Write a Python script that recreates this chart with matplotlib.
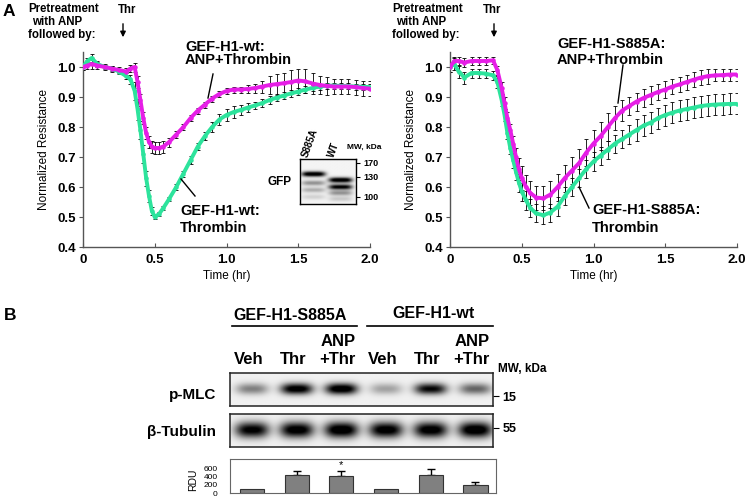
import matplotlib
matplotlib.use("Agg")
import matplotlib.pyplot as plt
import matplotlib.transforms as mtransforms
import numpy as np
from matplotlib.lines import Line2D
from matplotlib.patches import FancyArrowPatch

W, H = 745, 499
MAGENTA = "#e61ee6"
GREEN = "#2de39c"
NARROW = ["Liberation Sans Narrow", "Liberation Sans"]

plt.rcParams["font.family"] = ["Liberation Sans", "DejaVu Sans"]
plt.rcParams["font.weight"] = "bold"

# ---- panel A: normalized resistance vs time (hr), mean and error
time_hr = [0, 0.03, 0.06, 0.1, 0.15, 0.2, 0.25, 0.3, 0.33, 0.36, 0.38, 0.40,
           0.42, 0.44, 0.46, 0.48, 0.50, 0.53, 0.56, 0.6, 0.65, 0.7, 0.75, 0.8,
           0.85, 0.9, 0.95, 1.0, 1.05, 1.1, 1.15, 1.2, 1.25, 1.3, 1.35, 1.4,
           1.45, 1.5, 1.55, 1.6, 1.65, 1.7, 1.75, 1.8, 1.85, 1.9, 1.95, 2.0]

wt_thr = [1.00, 1.02, 1.03, 1.01, 1.00, 0.995, 0.985, 0.97, 0.96, 0.92, 0.86, 0.79,
          0.71, 0.63, 0.57, 0.52, 0.50, 0.51, 0.53, 0.56, 0.60, 0.645, 0.69, 0.735,
          0.77, 0.80, 0.825, 0.84, 0.85, 0.857, 0.865, 0.872, 0.88, 0.89, 0.898, 0.905,
          0.912, 0.918, 0.925, 0.93, 0.935, 0.938, 0.938, 0.937, 0.936, 0.935, 0.934, 0.933]
wt_thr_err = [0.01, 0.01, 0.012, 0.01, 0.008, 0.008, 0.008, 0.01, 0.015, 0.03, 0.035, 0.03,
              0.03, 0.025, 0.02, 0.012, 0.008, 0.008, 0.008, 0.008, 0.01, 0.01, 0.012, 0.012,
              0.012, 0.015, 0.018, 0.02, 0.02, 0.018, 0.015, 0.012, 0.012, 0.012, 0.012, 0.012,
              0.012, 0.012, 0.012, 0.01, 0.01, 0.01, 0.01, 0.01, 0.01, 0.01, 0.01, 0.01]

wt_anp = [1.00, 1.005, 1.01, 1.005, 1.00, 0.995, 0.99, 0.985, 0.995, 1.00, 0.95, 0.89,
          0.83, 0.78, 0.75, 0.735, 0.73, 0.73, 0.735, 0.75, 0.775, 0.80, 0.83, 0.855,
          0.875, 0.895, 0.91, 0.92, 0.925, 0.925, 0.927, 0.93, 0.935, 0.94, 0.943, 0.946,
          0.95, 0.955, 0.952, 0.945, 0.94, 0.937, 0.935, 0.935, 0.935, 0.933, 0.93, 0.928]
wt_anp_err = [0.01, 0.012, 0.015, 0.012, 0.01, 0.01, 0.01, 0.012, 0.012, 0.015, 0.02, 0.02,
              0.02, 0.02, 0.02, 0.02, 0.02, 0.02, 0.02, 0.015, 0.012, 0.01, 0.01, 0.01,
              0.01, 0.01, 0.01, 0.01, 0.01, 0.01, 0.012, 0.015, 0.02, 0.03, 0.035, 0.035,
              0.04, 0.04, 0.04, 0.035, 0.03, 0.03, 0.025, 0.025, 0.025, 0.025, 0.025, 0.025]

mut_thr = [1.00, 1.01, 0.985, 0.965, 0.98, 0.98, 0.978, 0.972, 0.95, 0.89, 0.84, 0.78,
           0.73, 0.69, 0.65, 0.615, 0.585, 0.555, 0.53, 0.512, 0.506, 0.515, 0.535, 0.57,
           0.60, 0.63, 0.66, 0.685, 0.705, 0.725, 0.745, 0.76, 0.775, 0.79, 0.805, 0.815,
           0.83, 0.84, 0.848, 0.855, 0.86, 0.865, 0.87, 0.873, 0.875, 0.876, 0.877, 0.877]
mut_thr_err = [0.015, 0.02, 0.02, 0.02, 0.015, 0.015, 0.015, 0.015, 0.02, 0.02, 0.02, 0.02,
               0.02, 0.025, 0.025, 0.03, 0.03, 0.03, 0.03, 0.03, 0.03, 0.03, 0.03, 0.03,
               0.03, 0.03, 0.03, 0.03, 0.03, 0.03, 0.03, 0.03, 0.03, 0.035, 0.035, 0.035,
               0.035, 0.035, 0.035, 0.035, 0.035, 0.035, 0.035, 0.035, 0.035, 0.035, 0.035, 0.035]

mut_anp = [1.00, 1.02, 1.02, 1.015, 1.02, 1.02, 1.02, 1.022, 0.99, 0.93, 0.88, 0.83,
           0.79, 0.745, 0.70, 0.66, 0.63, 0.60, 0.58, 0.565, 0.562, 0.575, 0.60, 0.63,
           0.655, 0.68, 0.715, 0.745, 0.77, 0.80, 0.83, 0.855, 0.87, 0.885, 0.897, 0.907,
           0.917, 0.925, 0.935, 0.942, 0.95, 0.958, 0.965, 0.97, 0.972, 0.973, 0.975, 0.975]
mut_anp_err = [0.015, 0.015, 0.015, 0.015, 0.012, 0.012, 0.012, 0.012, 0.015, 0.02, 0.02, 0.02,
               0.02, 0.025, 0.03, 0.035, 0.04, 0.04, 0.04, 0.04, 0.04, 0.045, 0.045, 0.045,
               0.045, 0.045, 0.045, 0.045, 0.045, 0.045, 0.04, 0.035, 0.03, 0.03, 0.03, 0.03,
               0.028, 0.028, 0.025, 0.025, 0.025, 0.025, 0.025, 0.025, 0.02, 0.02, 0.02, 0.02]

# ---- inset: GFP blot band intensities (main band first)
gfp_s885a = [1.0, 0.35, 0.25, 0.12]
gfp_wt = [1.0, 0.9, 0.35, 0.15]
gfp_mw = ["170", "130", "100"]

# ---- panel B
lane_labels = ["Veh", "Thr", "ANP\n+Thr", "Veh", "Thr", "ANP\n+Thr"]
pmlc_signal = [0.4, 0.95, 1.0, 0.28, 0.85, 0.5]
tubulin_signal = [0.9, 0.95, 1.0, 0.95, 0.95, 1.0]
rdu = [100, 440, 422, 100, 440, 195]
rdu_err = [0, 105, 115, 0, 145, 80]


fig = plt.figure(figsize=(W / 100, H / 100), dpi=100)


def px_axes(x0, y0, x1, y1):
    return fig.add_axes([x0 / W, 1 - y1 / H, (x1 - x0) / W, (y1 - y0) / H])


def ftext(x, y, s, **kw):
    return fig.text(x / W, 1 - y / H, s, **kw)


def fline(x0, y0, x1, y1, lw=1.0):
    fig.add_artist(Line2D([x0 / W, x1 / W], [1 - y0 / H, 1 - y1 / H],
                          transform=fig.transFigure, color="black", lw=lw))


def farrow(x, y0, y1):
    fig.add_artist(FancyArrowPatch(
        (x / W, 1 - y0 / H), (x / W, 1 - y1 / H), transform=fig.transFigure,
        arrowstyle="-|>", mutation_scale=8, color="black", lw=1.0))


def resistance_panel(ax, thr, thr_err, anp, anp_err):
    kw = dict(fmt="none", ecolor="black", elinewidth=0.6, capsize=1.6, capthick=0.6, zorder=2)
    ax.errorbar(time_hr, thr, yerr=thr_err, **kw)
    ax.errorbar(time_hr, anp, yerr=anp_err, **kw)
    ax.plot(time_hr, thr, color=GREEN, lw=2.8, marker="o", ms=2.2, zorder=3)
    ax.plot(time_hr, anp, color=MAGENTA, lw=2.8, marker="o", ms=2.2, zorder=4)
    ax.set_xlim(0, 2.0)
    ax.set_ylim(0.4, 1.05)
    ax.set_xticks([0, 0.5, 1.0, 1.5, 2.0])
    ax.set_xticklabels(["0", "0.5", "1.0", "1.5", "2.0"])
    ax.set_yticks([0.4, 0.5, 0.6, 0.7, 0.8, 0.9, 1.0])
    ax.set_yticklabels([f"{v:.1f}" for v in [0.4, 0.5, 0.6, 0.7, 0.8, 0.9, 1.0]])
    for s in ["top", "right"]:
        ax.spines[s].set_visible(False)
    for s in ["left", "bottom"]:
        ax.spines[s].set_color("#555555")
        ax.spines[s].set_linewidth(1.0)
    ax.tick_params(axis="x", direction="in", length=3, pad=5, labelsize=9.5, color="#555555")
    ax.tick_params(axis="y", direction="out", length=3, pad=2, labelsize=9.5, color="#555555")
    ax.set_xlabel("Time (hr)", fontsize=8.5, labelpad=3)
    ax.set_ylabel("Normalized Resistance", fontsize=8.5, labelpad=5)


def blot_image(ax, signal, yc, hh, hw, xlim):
    xs = np.linspace(xlim[0], xlim[1], 400)
    ys = np.linspace(0, 1, 120)
    X, Y = np.meshgrid(xs, ys)
    img = np.full(X.shape, 0.05)
    for i, v in enumerate(signal):
        img += v * np.exp(-np.abs((X - i) / hw) ** 3) * np.exp(-((Y - yc) / hh) ** 2)
    ax.imshow(img, cmap="gray_r", vmin=0, vmax=0.9, aspect="auto",
              extent=[xlim[0], xlim[1], 1, 0], interpolation="bilinear")
    ax.set_xlim(*xlim)
    ax.set_ylim(1, 0)
    ax.set_xticks([])
    for s in ax.spines.values():
        s.set_linewidth(1.1)
        s.set_color("#222222")


# ---------------- panel A, left (wt)
ax1 = px_axes(83, 52, 370, 247)
resistance_panel(ax1, wt_thr, wt_thr_err, wt_anp, wt_anp_err)

# ---------------- panel A, right (S885A)
ax2 = px_axes(450, 52, 737, 247)
resistance_panel(ax2, mut_thr, mut_thr_err, mut_anp, mut_anp_err)

ftext(3, 11, "A", fontsize=12.5, va="center", ha="left")
for x0, xa, xt in [(28, 123, 127), (392, 494, 492)]:
    ftext(x0, 9, "Pretreatment", fontsize=8.3, va="center")
    ftext(x0 + 4, 22, "with ANP", fontsize=8.3, va="center")
    ftext(x0, 35, "followed by:", fontsize=8.3, va="center")
    ftext(xt, 10, "Thr", fontsize=8.3, va="center", ha="center")
    farrow(xa, 21, 40)

ftext(185, 47, "GEF-H1-wt:", fontsize=10.5, va="center")
ftext(185, 60, "ANP+Thrombin", fontsize=10.5, va="center")
fline(213, 74, 208, 98)
ftext(180, 211, "GEF-H1-wt:", fontsize=10.5, va="center")
ftext(180, 228, "Thrombin", fontsize=10.5, va="center")
fline(195, 196, 181, 179)

ftext(557, 44, "GEF-H1-S885A:", fontsize=10.5, va="center")
ftext(557, 60, "ANP+Thrombin", fontsize=10.5, va="center")
fline(623, 65, 618, 103)
ftext(592, 210, "GEF-H1-S885A:", fontsize=10.5, va="center")
ftext(592, 228, "Thrombin", fontsize=10.5, va="center")
fline(589, 208, 579, 187)

# GFP inset blot
axg = px_axes(300, 159, 356, 204)
gx = np.linspace(-0.5, 1.57, 200)
gy = np.linspace(0, 45, 150)
GX, GY = np.meshgrid(gx, gy)
gel = np.full(GX.shape, 0.04)
for lane, bands, rows in [(0, gfp_s885a, [15, 24, 31, 38]), (1, gfp_wt, [21, 28, 34, 40])]:
    for v, r in zip(bands, rows):
        gel += v * np.exp(-np.abs((GX - lane) / 0.44) ** 4) * np.exp(-((GY - r) / 2.6) ** 2)
axg.imshow(gel, cmap="gray_r", vmin=0, vmax=0.9, aspect="auto",
           extent=[-0.5, 1.57, 45, 0], interpolation="bilinear")
axg.set_xlim(-0.5, 1.57)
axg.set_ylim(45, 0)
axg.set_xticks([])
axg.yaxis.tick_right()
axg.set_yticks([4, 18, 38])
axg.set_yticklabels(gfp_mw)
axg.tick_params(axis="y", length=3, pad=2, labelsize=6.5)
for s in axg.spines.values():
    s.set_linewidth(1.0)
ftext(280, 182, "GFP", fontsize=8.5, va="center", ha="center")
ftext(308, 158, "S885A", fontsize=7, rotation=70, rotation_mode="anchor",
      ha="left", va="baseline")
ftext(334, 158, "WT", fontsize=7, rotation=70, rotation_mode="anchor",
      ha="left", va="baseline")
ftext(347, 147, "MW, kDa", fontsize=6, va="center")

# ---------------- panel B
xl = (-0.49, 5.46)
axp = px_axes(230, 373, 493, 406)
blot_image(axp, pmlc_signal, 0.48, 0.17, 0.36, (-0.49, 5.39))
axp.yaxis.tick_right()
axp.set_yticks([0.7])
axp.set_yticklabels(["15"], family=NARROW, fontsize=9)
axp.tick_params(axis="y", length=4, pad=3)

axt = px_axes(230, 414, 493, 447)
blot_image(axt, tubulin_signal, 0.48, 0.24, 0.38, (-0.49, 5.39))
axt.yaxis.tick_right()
axt.set_yticks([0.42])
axt.set_yticklabels(["55"], family=NARROW, fontsize=9)
axt.tick_params(axis="y", length=4, pad=3)

axb = px_axes(230, 459, 496, 493)
idx = np.arange(len(rdu))
axb.bar(idx, rdu, width=0.54, color="#808080", edgecolor="#333333", lw=0.8, zorder=2)
has_err = [i for i in idx if rdu_err[i] > 0]
axb.errorbar(has_err, [rdu[i] for i in has_err],
             yerr=[[0] * len(has_err), [rdu_err[i] for i in has_err]],
             fmt="none", ecolor="black", elinewidth=1.0, capsize=3, capthick=1.0, zorder=1)
axb.annotate("*", xy=(2, rdu[2] + rdu_err[2]), xytext=(0, 1), textcoords="offset points",
             ha="center", va="bottom", fontsize=8, fontweight="normal")
axb.set_xlim(*xl)
axb.set_ylim(0, 830)
axb.set_xticks([])
axb.set_yticks([0, 200, 400, 600])
axb.tick_params(axis="y", length=0, pad=9, labelsize=6)
for lab in axb.get_yticklabels():
    lab.set_fontweight("normal")
for s in axb.spines.values():
    s.set_linewidth(0.8)
    s.set_color("#666666")
ftext(193, 480, "RDU", fontsize=7.5, rotation=90, va="center", ha="center", fontweight="normal")

# lane labels aligned with the bars
trans = mtransforms.blended_transform_factory(axb.transData, fig.transFigure)
for i, lab in enumerate(lane_labels):
    lines = lab.split("\n")[::-1]
    for k, line in enumerate(lines):
        fig.text(i - 0.08, 1 - (359 - 18 * k) / H, line, transform=trans, ha="center",
                 va="center", fontsize=12, family=NARROW)

ftext(10, 315, "B", fontsize=12.5, va="center", ha="center")
ftext(290, 315, "GEF-H1-S885A", fontsize=11.5, va="center", ha="center", family=NARROW)
ftext(434, 314, "GEF-H1-wt", fontsize=11.5, va="center", ha="center", family=NARROW)
fline(232, 326, 357, 326, lw=1.2)
fline(367, 326, 493, 326, lw=1.2)
ftext(498, 369, "MW, kDa", fontsize=8.5, va="center", family=NARROW)
ftext(216, 395, "p-MLC", fontsize=11, va="center", ha="right", family=NARROW)
ftext(216, 432, "β-Tubulin", fontsize=11, va="center", ha="right", family=NARROW)

fig.savefig("out.png", dpi=100)
